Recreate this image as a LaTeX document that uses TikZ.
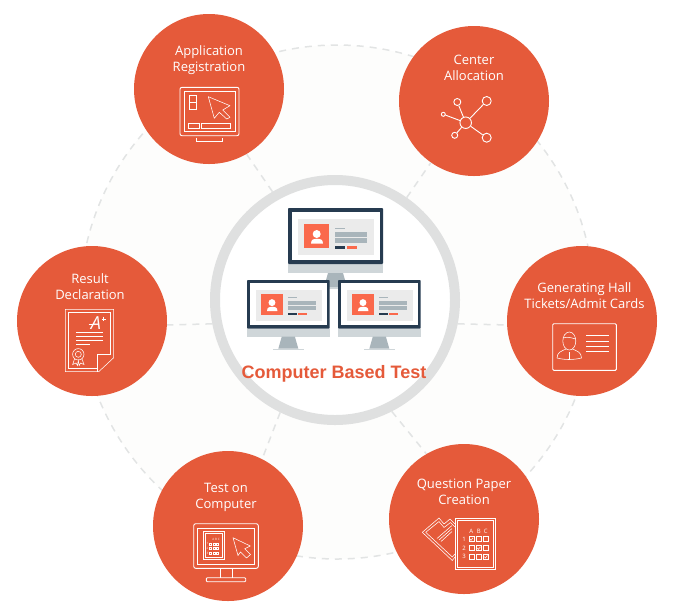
\documentclass[tikz,border=0pt]{standalone}
\usepackage{fontspec}
\setmainfont{Open Sans}
\newfontfamily\titlefont{Liberation Sans}
\definecolor{stepred}{HTML}{E55A3A}
\definecolor{hubgrey}{HTML}{DFE0E0}
\definecolor{trackgrey}{HTML}{E2E4E4}
\definecolor{trackfill}{HTML}{FDFDFC}
\definecolor{frameblue}{HTML}{263B50}
\definecolor{chingrey}{HTML}{CFD6D9}
\definecolor{standgrey}{HTML}{A9B5BB}
\definecolor{panelgrey}{HTML}{EBEBEB}
\definecolor{avatarred}{HTML}{FA694C}
\tikzset{
  stepdisc/.style={circle,fill=stepred,minimum size=150pt,inner sep=0pt},
  steptext/.style={text=white,align=center,font=\fontsize{13}{16}\selectfont,inner sep=0pt},
  spoke/.style={draw=trackgrey,line width=1.5pt,dash pattern=on 7pt off 6pt},
  iconline/.style={draw=white,line width=.9pt},
  thinline/.style={draw=white,line width=.55pt},
  netnode/.style={circle,draw=white,line width=.9pt,inner sep=0pt},
  tinytext/.style={text=white,inner sep=0pt,font=\fontsize{6}{6}\selectfont},
  sheettext/.style={text=white,inner sep=0pt,font=\fontsize{3}{3}\selectfont},
  pics/screen/.style={code={
    \fill[chingrey] (0,56) rectangle (95,65);
    \fill[standgrey] (40,65) -- (55,65) -- (59,79) -- (36,79) -- cycle;
    \fill[chingrey] (30,79) rectangle (65,80.5);
    \fill[frameblue,rounded corners=.8pt] (0,0) rectangle (95,56);
    \fill[white] (3.5,3.5) rectangle (91.5,52);
    \fill[panelgrey] (10,11) rectangle (86,47);
    \fill[avatarred] (16,16) rectangle (41,40);
    \fill[white] (28.7,26) circle (4);
    \fill[white] (23,35.7) .. controls (23,31) and (26,30.7) .. (29,30.7) .. controls (32,30.7) and (35,31) .. (35,35.7) -- cycle;
    \fill[standgrey] (47,19.5) rectangle (57,21);
    \fill[standgrey] (47,24) rectangle (79,29);
    \fill[standgrey] (47,30) rectangle (79,35);
    \fill[frameblue] (47,38) rectangle (57,40.5);
    \fill[avatarred] (59,38) rectangle (69,40.5);
  }}
}
\begin{document}
\begin{tikzpicture}[x=1pt,y=-1pt]
  \useasboundingbox (0,0) rectangle (674,614);
  % background track
  \node[circle,fill=trackfill,minimum size=514pt,inner sep=0pt] (trackfill) at (337,302) {};
  \node[circle,spoke,minimum size=514pt,inner sep=0pt] (track) at (337,302) {};
  % hub and discs
  \draw
    (335,300) node[circle,draw=hubgrey,fill=white,line width=10pt,minimum size=240pt,inner sep=0pt] (hub){}
    (209,89) node[stepdisc] (appreg){}
    (474,101) node[stepdisc] (center){}
    (582,321) node[stepdisc] (hall){}
    (464,519) node[stepdisc] (paper){}
    (228,526) node[stepdisc] (exam){}
    (92,321) node[stepdisc] (result){};
  \begin{scope}[spoke]
    \draw (hub.120) to (appreg.-60);
    \draw (hub.55) to (center.-125);
    \draw (hub.-11.5) to (hall.183);
    \draw (hub.-63) to (paper.120);
    \draw (hub.-116) to (exam.63);
    \draw (hub.191.5) to (result.-3);
  \end{scope}
  % disc labels
  \node[steptext] (appregtxt) at (209,60.5) {Application\\Registration};
  \node[steptext] (centertxt) at (474,67.5) {Center\\Allocation};
  \node[steptext] (halltxt) at (584.5,295.5) {Generating Hall\\Tickets/Admit Cards};
  \node[steptext] (papertxt) at (464,491.5) {Question Paper\\Creation};
  \node[steptext] (examtxt) at (226,497.5) {Test on\\Computer};
  \node[steptext] (resulttxt) at (90,286.5) {Result\\Declaration};
  % monitors
  \pic at (288,208) {screen};
  \pic[scale=.87] at (247,280) {screen};
  \pic[scale=.87] at (338,280) {screen};
  \node[text=stepred,inner sep=0pt,font=\titlefont\bfseries\fontsize{18}{18}\selectfont] (title) at (334,374) {Computer Based Test};
  % application icon
  \begin{scope}[iconline]
    \draw[rounded corners=2pt] (180,87.3) rectangle (239,135.7);
    \draw (184.3,91.3) rectangle (235,131.3);
    \draw (196.7,137.5) -- (196.7,141.3) -- (222.7,141.3) -- (222.7,137.5);
  \end{scope}
  \begin{scope}[thinline]
    \draw (189.3,95) rectangle (196.7,102.3);
    \draw (189.3,102.3) rectangle (196.7,109.3);
    \draw (188.3,123) rectangle (199,128.3);
    \draw (201,123) rectangle (230.7,128.3);
    \draw[line join=round] (208.3,96.7) -- (230,105.7) -- (222.7,110) -- (230,117.3) -- (226.7,119) -- (219.3,112.3) -- (214.3,118.3) -- cycle;
  \end{scope}
  % network icon
  \node[netnode,minimum size=11.5pt] (nethub) at (465.7,122.7) {};
  \node[netnode,minimum size=7pt] (neta) at (457.3,102) {};
  \node[netnode,minimum size=9pt] (netb) at (486.7,101) {};
  \node[netnode,minimum size=4pt] (netc) at (443.3,114.3) {};
  \node[netnode,minimum size=6pt] (netd) at (454.7,135.3) {};
  \node[netnode,minimum size=9pt] (nete) at (486.7,137.7) {};
  \begin{scope}[iconline]
    \draw (nethub) to (neta);
    \draw (nethub) to (netb);
    \draw (nethub) to (netc);
    \draw (nethub) to (netd);
    \draw (nethub) to (nete);
  \end{scope}
  % admit card icon
  \begin{scope}[iconline]
    \draw[rounded corners=1pt] (552.7,323.7) rectangle (616.3,370.3);
    \draw (586,335.3) -- (609,335.3);
    \draw (586,341) -- (609,341);
    \draw (586,346.3) -- (609,346.3);
    \draw (586,351.7) -- (609,351.7);
  \end{scope}
  \begin{scope}[thinline]
    \draw (569.3,341) ellipse (6.5 and 9);
    \draw (563,338) .. controls (566,337) and (570,337) .. (575.5,339);
    \draw (557,358) .. controls (557,352) and (562,351) .. (566,349);
    \draw (581.5,358) .. controls (581.5,352) and (576.5,351) .. (572.5,349);
    \draw (557,358) .. controls (565,360) and (573,360) .. (581.5,358);
    \draw (569.3,352) -- (569.3,359);
  \end{scope}
  % paper icon
  \begin{scope}[thinline]
    \draw (455.7,518) rectangle (495.7,569.7);
    \draw (457.7,520) rectangle (493.7,567.7);
    \draw[line join=round] (422.3,532.3) -- (439,518) -- (444,524) -- (450,519) -- (455,524);
    \draw[line join=round] (422.3,532.3) -- (452.3,560.5) -- (455,557);
    \draw[line join=round] (425.7,532.3) -- (439,521.5) -- (444,527.5) -- (450.5,522.5) -- (455,527);
    \draw[line join=round] (425.7,532.3) -- (452.3,557) -- (455,554);
    \draw (437,538.5) -- (452,525.5);
    \draw (439,540) -- (452,528.5);
    \draw (441,541.5) -- (452,531.5);
  \end{scope}
  \node[tinytext] (cola) at (471.3,531.7) {A};
  \node[tinytext] (colb) at (478.7,531.7) {B};
  \node[tinytext] (colc) at (485.7,531.7) {C};
  \node[tinytext] (rowa) at (464,539) {1};
  \node[tinytext] (rowb) at (464,548) {2};
  \node[tinytext] (rowc) at (464,556.7) {3};
  \begin{scope}[thinline]
    \foreach \y in {539,548,556.7} {
      \draw (468.8,\y-2.3) rectangle +(5,4.6);
      \draw (476.2,\y-2.3) rectangle +(5,4.6);
      \draw (483.2,\y-2.3) rectangle +(5,4.6);
    }
    \draw (470,539) -- (471,540.3) -- (473,537.8);
    \draw (477.4,548) -- (478.4,549.3) -- (480.4,546.8);
    \draw (484.4,556.7) -- (485.4,558) -- (487.4,555.5);
  \end{scope}
  % exam monitor icon
  \begin{scope}[iconline]
    \draw[rounded corners=2pt] (193.7,523.7) rectangle (258.3,568.3);
    \draw (197.3,528) rectangle (254,564);
    \draw (220.7,568.3) -- (220.7,577.7);
    \draw (232,568.3) -- (232,577.7);
    \draw[rounded corners=1pt] (206.3,577.7) rectangle (245.7,581.7);
  \end{scope}
  \begin{scope}[thinline]
    \draw (203,531) rectangle (224.7,559.3);
    \draw (205,533) rectangle (222.7,557.3);
    \draw[line join=round] (233,537.7) -- (250.3,546) -- (244.7,548.7) -- (250.5,554.5) -- (246.5,558) -- (240.5,552) -- (238,555.5) -- cycle;
  \end{scope}
  \node[sheettext] (sheethead) at (216,539) {A B C};
  \node[sheettext] (sheetrowa) at (207.5,543.8) {1};
  \node[sheettext] (sheetrowb) at (207.5,548.5) {2};
  \node[sheettext] (sheetrowc) at (207.5,553.2) {3};
  \begin{scope}[draw=white,line width=.3pt]
    \foreach \y in {543.8,548.5,553.2} {
      \draw (209.5,\y-1) rectangle +(2,2);
      \draw (213,\y-1) rectangle +(2,2);
      \draw (216.5,\y-1) rectangle +(2,2);
    }
  \end{scope}
  % certificate icon
  \begin{scope}[thinline]
    \draw[line join=round] (65.3,309.3) -- (113.7,309.3) -- (113.7,357.7) -- (98.7,371.7) -- (65.3,371.7) -- cycle;
    \draw (98,368.3) -- (68.7,368.3) -- (68.7,312.7) -- (110.3,312.7) -- (110.3,354.3) -- (97,354.3) -- (97,371.7);
    \draw (76.3,332.7) -- (103,332.7);
    \draw (76.3,336.7) -- (103,336.7);
    \draw (76.3,340.3) -- (103,340.3);
    \draw (76.3,344.3) -- (89.7,344.3);
    \draw (78.3,354.3) circle (5.7);
    \draw (78.3,354.3) circle (3);
    \draw (74.5,359) -- (72.7,364.5) -- (76,363) -- (77.5,365.5) -- (78.3,360.5) -- (79.2,365.5) -- (80.6,363) -- (84,364.5) -- (82,359);
    \draw (88.5,324) -- (93,324);
    \draw (101.5,319) -- (106,319);
    \draw (103.7,316.7) -- (103.7,321.3);
  \end{scope}
  \node[text=white,inner sep=0pt,font=\fontsize{18}{18}\selectfont\itshape] (grade) at (96,323.5) {A};
\end{tikzpicture}
\end{document}
